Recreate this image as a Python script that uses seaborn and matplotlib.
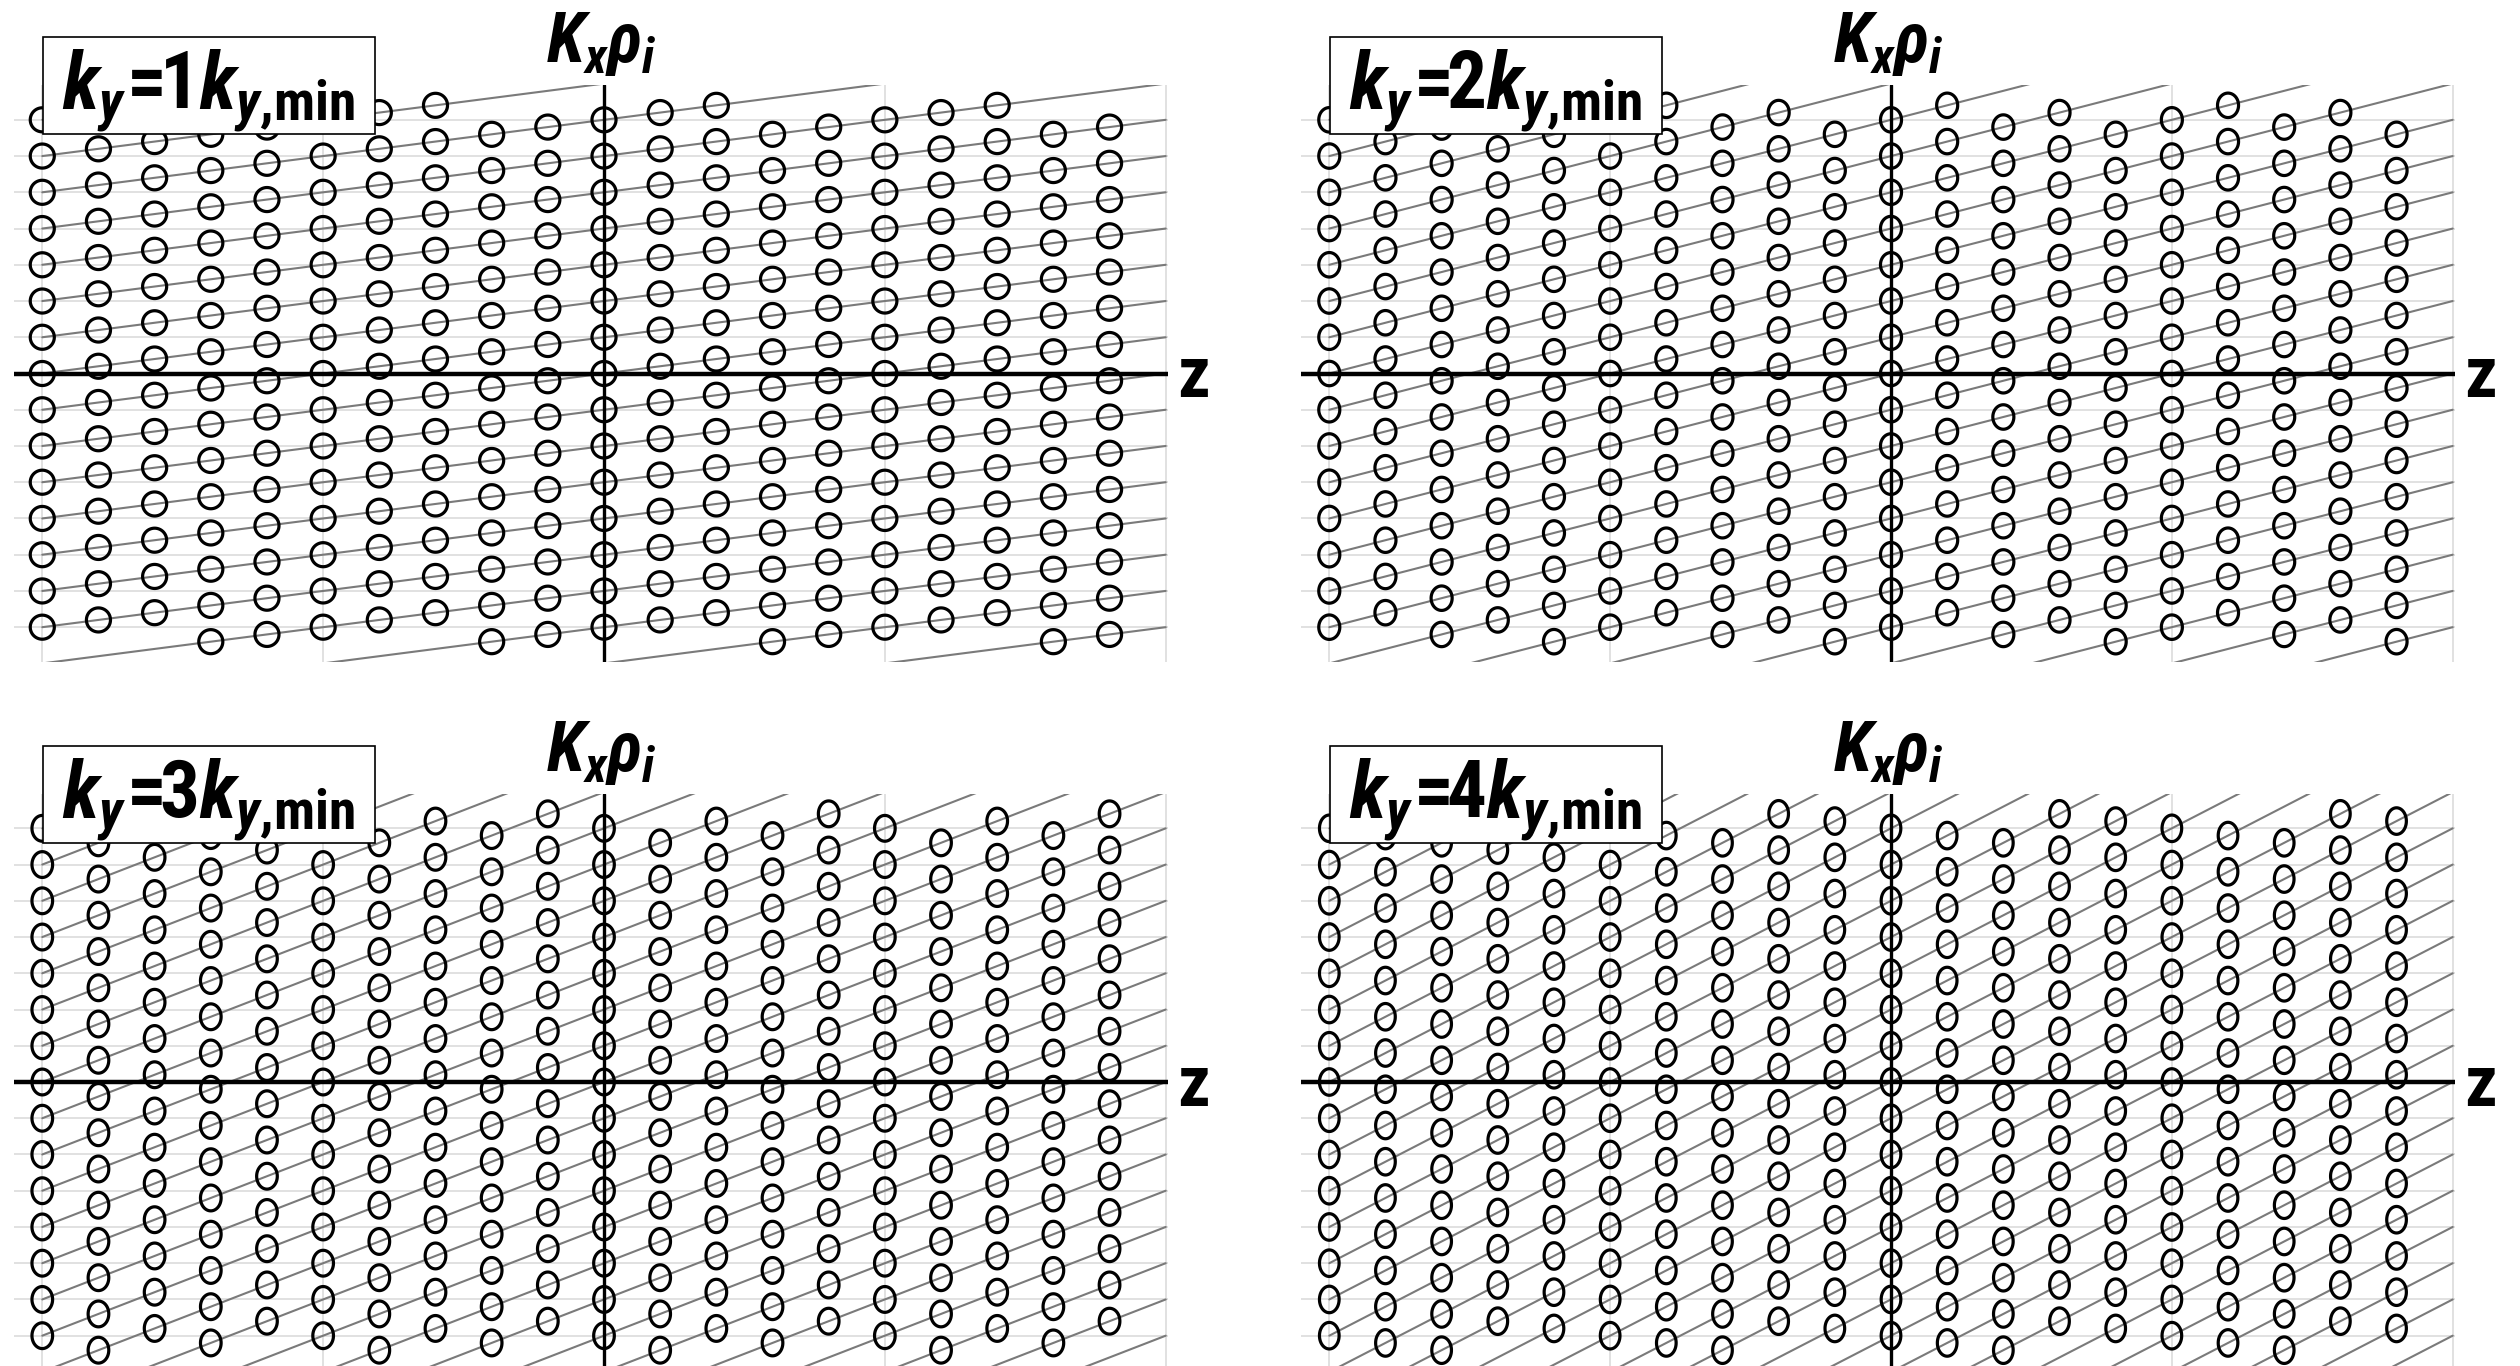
import numpy as np
import pandas as pd
import matplotlib
matplotlib.use("Agg")
import matplotlib.pyplot as plt
import seaborn as sns
from matplotlib import font_manager
from matplotlib.patches import Rectangle
from matplotlib.path import Path

# ---------------- data (schematic lattice) ----------------
ky_multiples = [1, 2, 3, 4]                       # k_y = n * k_y,min for the 4 panels
kx_modes = [-7, -6, -5, -4, -3, -2, -1, 0, 1, 2, 3, 4, 5, 6, 7]   # 15 radial modes
z_points_over_pi = [-1.0, -0.9, -0.8, -0.7, -0.6, -0.5, -0.4, -0.3, -0.2, -0.1,
                    0.0, 0.1, 0.2, 0.3, 0.4, 0.5, 0.6, 0.7, 0.8, 0.9]  # parallel grid
z_gridlines_over_pi = [-1.0, -0.5, 0.0, 0.5, 1.0]
shift_per_half_pi = 1.0       # K_x shift (in kx spacings) per pi/2 of z, per unit k_y
panel_labels = [r"$k_y\!=\!\!\mathrm{1}k_{y{,}\mathrm{min}}$",
                r"$k_y\!=\!\!\mathrm{2}k_{y{,}\mathrm{min}}$",
                r"$k_y\!=\!\!\mathrm{3}k_{y{,}\mathrm{min}}$",
                r"$k_y\!=\!\!\mathrm{4}k_{y{,}\mathrm{min}}$"]
vertical_label = r"$K_x\rho_i$"
horizontal_label = "z"

# ---------------- style ----------------
sns.set_style("white")
names = {f.name for f in font_manager.fontManager.ttflist}
fam = "Liberation Sans"
for cand in ["Liberation Sans Narrow", "Arial Narrow", "Nimbus Sans Narrow",
             "Roboto Condensed", "Open Sans Condensed"]:
    if cand in names:
        fam = cand
        break
plt.rcParams["font.family"] = [fam, "DejaVu Sans"]
plt.rcParams["mathtext.fontset"] = "custom"
plt.rcParams["mathtext.rm"] = f"{fam}:bold"
plt.rcParams["mathtext.it"] = f"{fam}:italic:bold"
plt.rcParams["mathtext.bf"] = f"{fam}:bold"
plt.rcParams["mathtext.sf"] = f"{fam}:bold"

W, H = 2520, 1366
fig = plt.figure(figsize=(W / 100, H / 100), dpi=100)

x_left, x_right = -np.pi - 0.16, np.pi + 0.01
y_lo, y_hi = -7.96, 7.96
px_x = 178.8   # pixels per unit z
px_y = 36.24   # pixels per unit Kx
ax_w = (x_right - x_left) * px_x
ax_h = (y_hi - y_lo) * px_y
origins = [(604, 373.5), (1891, 373.5), (604, 1082), (1891, 1082)]
marker_aspect = [1.0, 0.86, 0.8, 0.74]
marker_area = [300, 310, 345, 365]

n_modes = len(kx_modes)
half = n_modes / 2.0
z_pts = np.array(z_points_over_pi) * np.pi


def ellipse_marker(aspect):
    t = np.linspace(0, 2 * np.pi, 72)
    verts = np.column_stack([aspect * 0.5 * np.cos(t), 0.5 * np.sin(t)])
    return Path(verts, closed=True)


def fit_size(txt, fs, target_w, renderer):
    txt.set_fontsize(fs)
    w = txt.get_window_extent(renderer).width
    if w > target_w:
        txt.set_fontsize(fs * target_w / w)


renderer = fig.canvas.get_renderer()

for i, ky in enumerate(ky_multiples):
    ox, oy = origins[i]
    left_px = ox + x_left * px_x
    top_px = oy - y_hi * px_y
    ax = fig.add_axes([left_px / W, (H - (top_px + ax_h)) / H, ax_w / W, ax_h / H])

    # connecting lines (twist-and-shift chains)
    nmax = int(half) + 2 + 2 * ky
    rows = []
    for n in range(-nmax, nmax + 1):
        for z in (-np.pi, np.pi):
            rows.append({"n": n, "z": z, "Kx": n + ky * shift_per_half_pi * z / (np.pi / 2)})
    dfl = pd.DataFrame(rows)
    sns.lineplot(data=dfl, x="z", y="Kx", units="n", estimator=None, sort=False,
                 color="#7a7a7a", lw=1.5, ax=ax, legend=False, zorder=2)

    # grid points: K_x = kx + ky*shat*z, wrapped into the simulated K_x box
    pts = []
    for z in z_pts:
        for kx in kx_modes:
            raw = kx + ky * shift_per_half_pi * z / (np.pi / 2)
            kxw = ((raw + half) % n_modes) - half
            pts.append({"z": z, "Kx": round(kxw, 6)})
    dfc = pd.DataFrame(pts)
    sns.scatterplot(data=dfc, x="z", y="Kx", marker=ellipse_marker(marker_aspect[i]),
                    s=marker_area[i], fc="none", ec="black", linewidth=2.3, ax=ax,
                    legend=False, zorder=4)

    ax.axhline(0, color="black", lw=3.2, zorder=5)
    ax.axvline(0, color="black", lw=2.4, zorder=5)

    ax.set_xlim(x_left, x_right)
    ax.set_ylim(y_lo, y_hi)
    ax.set_xticks(np.array(z_gridlines_over_pi) * np.pi)
    ax.set_yticks(kx_modes)
    ax.tick_params(length=0, labelbottom=False, labelleft=False)
    ax.grid(True, color="#d9d9d9", lw=1.1)
    ax.set_axisbelow(True)
    ax.set_xlabel("")
    ax.set_ylabel("")
    for sp in ax.spines.values():
        sp.set_visible(False)

    # axis labels
    t1 = ax.text((546 - 604) / px_x, (373.5 - 62) / px_y, vertical_label,
                 ha="left", va="baseline", color="black", zorder=8, clip_on=False)
    fit_size(t1, 51, 140, renderer)
    t2 = ax.text(np.pi + (1176 - 1165) / px_x, -0.65, horizontal_label,
                 ha="left", va="baseline", fontweight="bold", color="black",
                 zorder=8, clip_on=False, family=[fam, "DejaVu Sans"])
    fit_size(t2, 52, 38, renderer)

    # panel label box
    bx0, bx1 = (43 - 604) / px_x, (375 - 604) / px_x
    by0, by1 = (373.5 - 134) / px_y, (373.5 - 37) / px_y
    ax.add_patch(Rectangle((bx0, by0), bx1 - bx0, by1 - by0, fc="white", ec="black",
                           lw=1.2, zorder=6, clip_on=False))
    t3 = ax.text((bx0 + bx1) / 2, (373.5 - 108) / px_y, panel_labels[i],
                 ha="center", va="baseline", color="black", zorder=7, clip_on=False)
    fit_size(t3, 57, 312, renderer)

fig.savefig("out.png", dpi=100)
